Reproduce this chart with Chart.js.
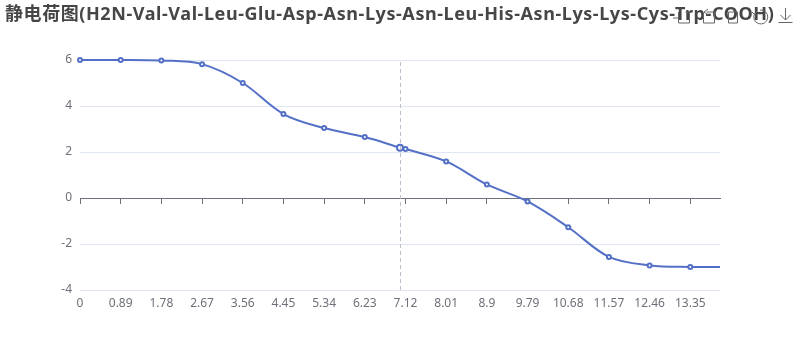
<!DOCTYPE html>
<html>
<head>
<meta charset="utf-8">
<style>
    html, body { margin: 0; padding: 0; background: #fff; }
    #wrap { position: relative; width: 800px; height: 360px; overflow: hidden; }
    #title { position: absolute; left: 5px; top: 1px; font: bold 18px/24px "Noto Sans", "Noto Sans CJK SC", sans-serif; letter-spacing: 0.58px; color: #464646; white-space: nowrap; }
    #toolbox { position: absolute; left: 0; top: 0; }
    canvas { position: absolute; left: 0; top: 0; }
</style>
<script src="https://cdn.jsdelivr.net/npm/chart.js@4"></script>
</head>
<body>
<div id="wrap">
    <canvas id="myChart" width="800" height="360"></canvas>
    <div id="title"></div>
    <!-- toolbox icons, they sit on top of the title in the original too -->
    <svg id="toolbox" width="800" height="40" fill="none" stroke="#666" stroke-width="1">
        <path d="M678.5 17v-5M678.5 17v6h11v-11h-4M678 18h-5"/>
        <path d="M703.5 14v9h11v-11h-8M708 9l-4 3 4 3"/>
        <path d="M728.5 12v11h9v-11z"/>
        <path d="M755 13a7 7 0 1 0 5-3M752 12l3 3 2-4"/>
        <path d="M785.5 8v12M780.5 15l5 5 5-5M778.5 22.500h14"/>
    </svg>
</div>
<script>
const titleText = '静电荷图(H2N-Val-Val-Leu-Glu-Asp-Asn-Lys-Asn-Leu-His-Asn-Lys-Lys-Cys-Trp-COOH)';
const phValues = [0, 0.89, 1.78, 2.67, 3.56, 4.45, 5.34, 6.23, 7, 7.12, 8.01, 8.9, 9.79, 10.68, 11.57, 12.46, 13.35, 14];
const chargeValues = [6, 6, 5.98, 5.82, 5, 3.65, 3.04, 2.65, 2.19, 2.13, 1.59, 0.59, -0.15, -1.27, -2.56, -2.93, -3, -3];
const xTicks = [0, 0.89, 1.78, 2.67, 3.56, 4.45, 5.34, 6.23, 7.12, 8.01, 8.9, 9.79, 10.68, 11.57, 12.46, 13.35];
const yTicks = [-4, -2, 0, 2, 4, 6];
const hoverX = 7;
const crosshairX = 7.01; // lands on a whole pixel, 7 would blur over two
const yMin = -4;
const yMax = 6;

const fontFamily = '"Noto Sans", "Noto Sans CJK SC", sans-serif';

document.getElementById('title').textContent = titleText;

// ticks come from the list above, not from the auto tick generator
function useXTicks(scale) {
    scale.ticks = xTicks.map(function (v) { return { value: v }; });
}

new Chart(document.getElementById('myChart'), {
    type: 'scatter',
    data: {
        datasets: [{
            data: phValues.map(function (x, i) { return { x: x, y: chargeValues[i] }; }),
            order: 1,
            showLine: true,
            tension: 0.35,
            borderColor: '#5470C6',
            borderWidth: 2,
            backgroundColor: '#fff',
            pointBorderColor: '#5470C6',
            pointBorderWidth: 2,
            pointRadius: function (c) {
                const x = phValues[c.dataIndex];
                if (x === hoverX) return 3;
                return x === 14 ? 0 : 2;
            },
            clip: false
        }, {
            // crosshair
            data: [{ x: crosshairX, y: yMin }, { x: crosshairX, y: yMax }],
            order: 0,
            showLine: true,
            borderColor: '#B9BECB',
            borderWidth: 1,
            borderDash: [4, 3],
            pointRadius: 0
        }]
    },
    options: {
        responsive: false,
        animation: false,
        layout: { padding: { left: 0, right: 80, top: 60, bottom: 40 } },
        plugins: {
            legend: { display: false },
            tooltip: { enabled: false }
        },
        scales: {
            x: {
                type: 'linear',
                min: 0,
                max: 14,
                afterBuildTicks: useXTicks,
                afterFit: function (scale) { scale.height = 30; },
                grid: { display: false, drawTicks: false },
                border: { display: false },
                ticks: {
                    color: '#6E7079',
                    font: { family: fontFamily, size: 12 },
                    autoSkip: false,
                    maxRotation: 0,
                    padding: 6,
                    callback: function (v) { return String(v); }
                }
            },
            zero: {
                type: 'linear',
                axis: 'x',
                position: { y: 0 },
                min: 0,
                max: 14,
                afterBuildTicks: useXTicks,
                border: { color: '#6E7079' },
                grid: { drawOnChartArea: false, color: '#6E7079', tickLength: 5 },
                ticks: { display: false }
            },
            y: {
                min: yMin,
                max: yMax,
                afterBuildTicks: function (scale) {
                    scale.ticks = yTicks.map(function (v) { return { value: v }; });
                },
                afterFit: function (scale) { scale.width = 80; },
                border: { display: false },
                grid: { color: '#E0E6F1', drawTicks: false },
                ticks: {
                    color: '#6E7079',
                    font: { family: fontFamily, size: 12 },
                    padding: 8
                }
            }
        }
    }
});
</script>
</body>
</html>
